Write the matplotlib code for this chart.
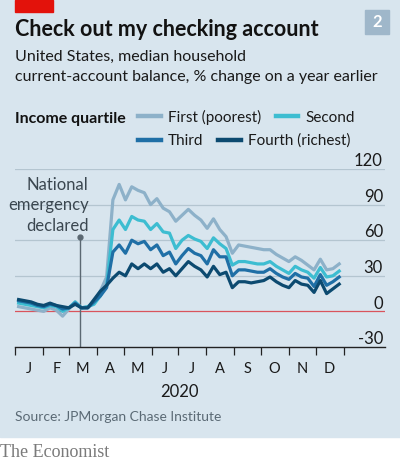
import pandas as pd
import matplotlib
matplotlib.use("Agg")
import matplotlib.pyplot as plt
import matplotlib.dates as mdates
from matplotlib.patches import Rectangle

plt.rcParams['font.family'] = ['Lato', 'DejaVu Sans']

# weekly readings, % change on a year earlier
weeks = pd.date_range("2020-01-05", periods=52, freq="7D")
first = [4, 3, 2, 1, 0, 3, 1, -4, 2, 8, 3, 4, 8, 17, 29, 94, 107, 94, 105, 102,
         100, 90, 95, 87, 84, 76, 81, 86, 81, 77, 70, 78, 69, 63, 49, 56, 55, 54,
         53, 52, 52, 48, 45, 42, 46, 43, 39, 35, 44, 35, 36, 40]
second = [7, 6, 5, 4, 3, 5, 4, 0, 3, 8, 3, 4, 6, 13, 22, 69, 77, 69, 80, 77,
          76, 69, 74, 67, 66, 53, 60, 64, 61, 59, 53, 62, 57, 53, 39, 42, 42, 41,
          40, 40, 42, 38, 35, 32, 38, 35, 33, 28, 37, 29, 30, 34]
third = [9, 8, 7, 5, 4, 6, 5, 2, 3, 7, 3, 3, 8, 13, 20, 50, 56, 49, 60, 57,
         59, 52, 56, 47, 50, 40, 47, 53, 49, 47, 40, 52, 46, 46, 30, 35, 35, 34,
         33, 33, 36, 32, 29, 27, 32, 29, 28, 21, 31, 22, 25, 29]
fourth = [10, 9, 8, 6, 5, 7, 5, 4, 3, 6, 3, 3, 10, 17, 22, 28, 33, 30, 40, 36,
          40, 36, 40, 33, 36, 30, 36, 42, 38, 35, 29, 38, 31, 33, 20, 25, 25, 24,
          25, 26, 29, 25, 22, 20, 26, 23, 22, 16, 26, 15, 19, 23]
names = ["First (poorest)", "Second", "Third", "Fourth (richest)"]
y_ticks = [-30, 0, 30, 60, 90, 120]
month_letters = ["J", "F", "M", "A", "M", "J", "J", "A", "S", "O", "N", "D"]
emergency = pd.Timestamp("2020-03-13")

bg = "#d8e5ee"
colours = ["#8db1c9", "#3dbdd1", "#1f6fa6", "#0c4a70"]

fig = plt.figure(figsize=(4, 4.61), dpi=100, facecolor="white")
fig.patches.append(Rectangle((0, 24 / 461), 1, 1, transform=fig.transFigure,
                             color=bg, zorder=-5))
# red tag and chart number
fig.patches.append(Rectangle((15 / 400, 1 - 12 / 461), 38 / 400, 12 / 461,
                             transform=fig.transFigure, color="#e3120b", zorder=-4))
fig.patches.append(Rectangle((365 / 400, 1 - 34 / 461), 24 / 400, 24 / 461,
                             transform=fig.transFigure, color="#9fb7ca", zorder=-4))
fig.text(377 / 400, 1 - 22 / 461, "2", color="white", fontsize=12,
         fontweight="bold", ha="center", va="center")

fig.text(15 / 400, 1 - 36.5 / 461, "Check out my checking account",
         fontsize=15.5, fontweight="bold", color="#121212", va="baseline")
fig.text(15 / 400, 1 - 61 / 461, "United States, median household",
         fontsize=11.5, color="#1a1a1a", va="baseline")
fig.text(15 / 400, 1 - 81.5 / 461, "current-account balance, % change on a year earlier",
         fontsize=11.5, color="#1a1a1a", va="baseline")

ax = fig.add_axes([15 / 400, 1 - 347 / 461, 370 / 400, 178 / 461])
ax.set_facecolor("none")

for v in y_ticks[2:]:
    ax.axhline(v, color="#b4c5d0", lw=0.9, zorder=1)
ax.axhline(0, color="#d9545c", lw=0.9, zorder=1)

lines = []
for vals, c, n in zip([first, second, third, fourth], colours, names):
    ln, = ax.plot(weeks, vals, color=c, lw=2.3, label=n, zorder=3)
    lines.append(ln)

ax.set_ylim(-30, 120)
ax.set_xlim(pd.Timestamp("2020-01-01"), pd.Timestamp("2020-01-01") + pd.Timedelta(days=412))
ax.set_yticks([])
for s in ["top", "left", "right"]:
    ax.spines[s].set_visible(False)
ax.spines["bottom"].set_color("#222222")
ax.spines["bottom"].set_linewidth(1)

for v in y_ticks:
    ax.annotate(str(v), xy=(1, v), xycoords=("axes fraction", "data"),
                xytext=(-1.5, 2), textcoords="offset points", ha="right",
                va="baseline", fontsize=12, color="#1a1a1a")

month_starts = pd.date_range("2020-01-01", "2021-01-01", freq="MS")
mid_months = month_starts[:-1] + pd.Timedelta(days=15)
ax.set_xticks(mdates.date2num(month_starts))
ax.set_xticklabels([])
ax.set_xticks(mdates.date2num(mid_months), minor=True)
ax.set_xticklabels(month_letters, minor=True)
ax.tick_params(axis="x", which="major", length=6, width=0.9, color="#222222")
ax.tick_params(axis="x", which="minor", length=0, pad=11, labelsize=10.5,
               labelcolor="#1a1a1a")
fig.text(179 / 400, 1 - 396.5 / 461, "2020", ha="center", va="baseline",
         fontsize=12, color="#1a1a1a")

# national emergency marker
ax.plot([emergency, emergency], [-30, 62.5], color="#5b6872", lw=1, zorder=2)
ax.plot([emergency], [62.5], "o", color="#5b6872", ms=3.5, zorder=2)
ax.annotate("National\nemergency\ndeclared", xy=(emergency, 113),
            xytext=(6.5, 0), textcoords="offset points", ha="right", va="top",
            fontsize=12, color="#3b4750", linespacing=1.32)

# legend
fig.text(15 / 400, 1 - 123 / 461, "Income quartile", fontsize=11.5,
         fontweight="bold", color="#121212", va="baseline")
leg_kw = dict(ncol=2, loc="center left", bbox_transform=fig.transFigure,
              frameon=False, handlelength=1.5, handletextpad=0.45,
              columnspacing=0.95, borderpad=0, borderaxespad=0, fontsize=11,
              labelcolor="#1a1a1a")
leg1 = ax.legend(handles=lines[:2], bbox_to_anchor=(138 / 400, 1 - 117 / 461), **leg_kw)
ax.add_artist(leg1)
leg2 = ax.legend(handles=lines[2:], bbox_to_anchor=(138 / 400, 1 - 141 / 461), **leg_kw)
for lg in [leg1, leg2]:
    for h in lg.get_lines():
        h.set_linewidth(3.2)

fig.text(15 / 400, 1 - 421 / 461, "Source: JPMorgan Chase Institute",
         fontsize=10, color="#5b6a75", va="baseline")
fig.text(0.5 / 400, 1 - 456.5 / 461, "The Economist", fontsize=13,
         family=["Liberation Serif", "DejaVu Serif"], color="#7a7a7a", va="baseline")

fig.savefig("out.png", dpi=100, facecolor=fig.get_facecolor())
